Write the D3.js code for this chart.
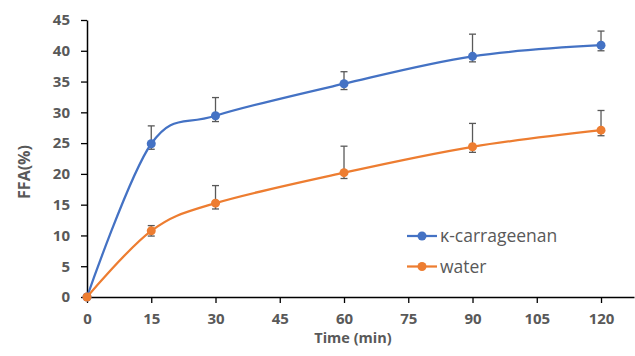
<!DOCTYPE html>
<html>
<meta charset="utf-8">
<title>FFA release</title>
<style>
body { margin: 0; background: #fff; }
text { font-family: "Open Sans", "Liberation Sans", sans-serif; }
.tick text { fill: #595959; font-weight: bold; font-size: 15px; }
.axis-title { fill: #595959; font-weight: bold; font-size: 15px; }
.legend text { fill: #595959; font-size: 17.5px; }
</style>
<script src="https://d3js.org/d3.v7.min.js"></script>
<body>
<script>
const times = [0, 15, 30, 60, 90, 120];
const xTicks = [0, 15, 30, 45, 60, 75, 90, 105, 120];
const yTicks = [0, 5, 10, 15, 20, 25, 30, 35, 40, 45];

const carrageenan = [0, 24.9, 29.45, 34.65, 39.1, 40.9];
const carrageenanUp = [0, 27.8, 32.4, 36.6, 42.7, 43.2];
const carrageenanLow = [0, 24.0, 28.5, 33.7, 38.2, 40.0];

const water = [0, 10.75, 15.25, 20.2, 24.4, 27.1];
const waterUp = [0, 11.6, 18.1, 24.5, 28.2, 30.3];
const waterLow = [0, 9.9, 14.3, 19.25, 23.5, 26.2];

const series = [
  {name: "κ-carrageenan", color: "#4472C4", values: carrageenan, up: carrageenanUp, low: carrageenanLow},
  {name: "water", color: "#ED7D31", values: water, up: waterUp, low: waterLow},
];

const width = 635, height = 356;
const margin = {top: 20, right: 1, bottom: 59, left: 87};

const x = d3.scaleLinear().domain([0, 127.7]).range([margin.left, width - margin.right]);
const y = d3.scaleLinear().domain([0, 45]).range([height - margin.bottom, margin.top]);

const svg = d3.select("body").append("svg")
    .attr("width", width)
    .attr("height", height);

// error bars first, under the lines
for (const s of series) {
  const g = svg.append("g").attr("stroke", "#595959").attr("stroke-width", 1.3);
  times.forEach((t, i) => {
    if (s.up[i] === s.low[i]) return;
    const cx = x(t);
    g.append("line").attr("x1", cx).attr("x2", cx).attr("y1", y(s.up[i])).attr("y2", y(s.low[i]));
    g.append("line").attr("x1", cx - 3.5).attr("x2", cx + 3.5).attr("y1", y(s.up[i])).attr("y2", y(s.up[i]));
    g.append("line").attr("x1", cx - 3.5).attr("x2", cx + 3.5).attr("y1", y(s.low[i])).attr("y2", y(s.low[i]));
  });
}

const xAxis = svg.append("g")
    .attr("transform", `translate(0,${y(0)})`)
    .call(d3.axisBottom(x).tickValues(xTicks).tickSize(6).tickPadding(10).tickSizeOuter(0));
const yAxis = svg.append("g")
    .attr("transform", `translate(${x(0)},0)`)
    .call(d3.axisLeft(y).tickValues(yTicks).tickSize(6).tickPadding(11).tickSizeOuter(0));
for (const ax of [xAxis, yAxis]) {
  ax.select(".domain").attr("stroke", "#000").attr("stroke-width", 1.5);
  ax.selectAll(".tick line").attr("stroke", "#000").attr("stroke-width", 1.3);
}

const line = d3.line()
    .x((d, i) => x(times[i]))
    .y(d => y(d))
    .curve(d3.curveCardinal.tension(0));

for (const s of series) {
  svg.append("path")
      .datum(s.values)
      .attr("fill", "none")
      .attr("stroke", s.color)
      .attr("stroke-width", 2.25)
      .attr("d", line);
  svg.append("g").selectAll("circle")
    .data(s.values)
    .join("circle")
      .attr("cx", (d, i) => x(times[i]))
      .attr("cy", d => y(d))
      .attr("r", 4.5)
      .attr("fill", s.color);
}

svg.append("text").attr("class", "axis-title")
    .attr("x", 353).attr("y", 343)
    .attr("text-anchor", "middle")
    .style("font-size", "14.5px")
    .text("Time (min)");
svg.append("text").attr("class", "axis-title")
    .attr("transform", "translate(30,172) rotate(-90)")
    .attr("text-anchor", "middle")
    .style("font-size", "16px")
    .text("FFA(%)");

const legend = svg.append("g").attr("class", "legend");
series.forEach((s, i) => {
  const ly = 236 + i * 30.5;
  legend.append("line").attr("x1", 407).attr("x2", 437).attr("y1", ly).attr("y2", ly)
      .attr("stroke", s.color).attr("stroke-width", 2.25);
  legend.append("circle").attr("cx", 422).attr("cy", ly).attr("r", 4.5).attr("fill", s.color);
  legend.append("text").attr("x", 440).attr("y", ly).attr("dy", "0.35em").text(s.name);
});
</script>
</body>
</html>
